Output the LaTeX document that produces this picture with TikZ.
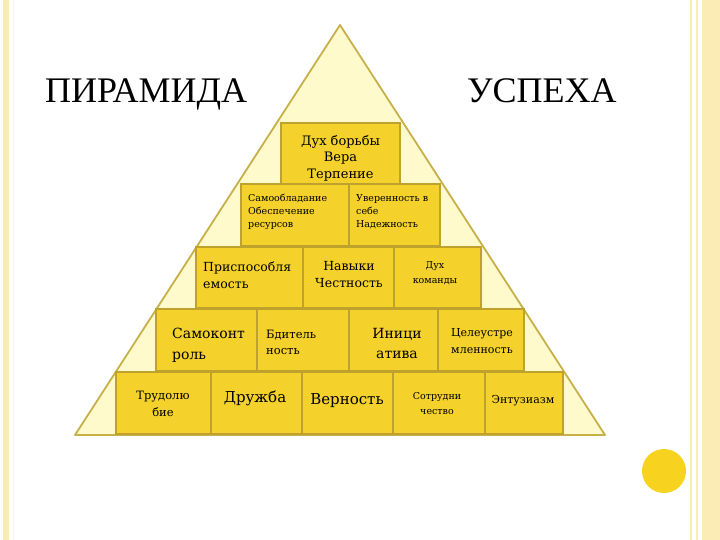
\documentclass[tikz,border=0pt]{standalone}
\usepackage{fontspec}
\setmainfont{Liberation Serif}
\newfontfamily\brickfont{DejaVu Serif}
\usetikzlibrary{fit}

\definecolor{brickfill}{HTML}{F5D22B}
\definecolor{brickline}{HTML}{BFA22E}
\definecolor{pyrfill}{HTML}{FEFACB}
\definecolor{pyrline}{HTML}{C6B04A}
\definecolor{stripe}{HTML}{FBEBB4}
\definecolor{dotfill}{HTML}{F7D21F}

\newcommand{\fs}[2]{\brickfont\fontsize{#1}{#2}\selectfont}

\begin{document}
\begin{tikzpicture}[x=1pt, y=-1pt,
  brick/.style={rectangle, draw=brickline, line width=1.6pt, fill=brickfill, inner sep=0pt},
  word/.style={inner sep=0pt, text=black}]

\useasboundingbox (0,0) rectangle (720,540);

% side stripes
\fill[stripe] (3,0) rectangle (9,540);
\draw[stripe!60, line width=0.8pt] (13,0) -- (13,540);
\draw[stripe, line width=2pt] (691,0) -- (691,540);
\draw[stripe, line width=2pt] (697,0) -- (697,540);
\fill[stripe] (702,0) rectangle (720,540);

% pyramid
\draw[pyrline, fill=pyrfill, line width=1.8pt, line join=round] (340,25) -- (605,435) -- (75,435) -- cycle;

% bricks
\node[brick, fit={(281,123) (400,184)}] (spirit) {};
\node[brick, fit={(241,184) (349,246)}] (selfpos) {};
\node[brick, fit={(349,184) (440,246)}] (confid) {};
\node[brick, fit={(196,247) (303,308)}] (adapt) {};
\node[brick, fit={(303,247) (394,308)}] (skills) {};
\node[brick, fit={(394,247) (481,308)}] (team) {};
\node[brick, fit={(156,309) (257,371)}] (selfctl) {};
\node[brick, fit={(257,309) (349,371)}] (alert) {};
\node[brick, fit={(349,309) (438,371)}] (initiat) {};
\node[brick, fit={(438,309) (524,371)}] (purpose) {};
\node[brick, fit={(116,372) (211,434)}] (labour) {};
\node[brick, fit={(211,372) (302,434)}] (friend) {};
\node[brick, fit={(302,372) (393,434)}] (loyal) {};
\node[brick, fit={(393,372) (485,434)}] (cooper) {};
\node[brick, fit={(485,372) (563,434)}] (enthus) {};

% texts
\node[word, align=center, font=\fs{13}{16.5}] (spiritT) at (340.5,158) {Дух борьбы\\Вера\\Терпение};
\node[word, align=left, anchor=west, font=\fs{9.5}{13}] (selfposT) at (248,212) {Самообладание\\Обеспечение\\ресурсов};
\node[word, align=left, anchor=west, font=\fs{9.5}{13}] (confidT) at (356,212) {Уверенность в\\себе\\Надежность};
\node[word, align=left, anchor=west, font=\fs{12.5}{17}] (adaptT) at (203,275) {Приспособля\\емость};
\node[word, align=center, font=\fs{12.5}{17}] (skillsT) at (349,275) {Навыки\\Честность};
\node[word, align=center, font=\fs{9.5}{15}] (teamT) at (435,273) {Дух\\команды};
\node[word, align=left, anchor=west, font=\fs{14}{21}] (selfctlT) at (172,345) {Самоконт\\роль};
\node[word, align=left, anchor=west, font=\fs{11.5}{16}] (alertT) at (266,342) {Бдитель\\ность};
\node[word, align=center, font=\fs{14}{20}] (initiatT) at (397,343) {Иници\\атива};
\node[word, align=center, font=\fs{11}{17}] (purposeT) at (482,341) {Целеустре\\мленность};
\node[word, align=center, font=\fs{11.5}{17}] (labourT) at (163,404) {Трудолю\\бие};
\node[word, font=\fs{15}{19}] (friendT) at (255,398) {Дружба};
\node[word, font=\fs{15}{19}] (loyalT) at (347,401) {Верность};
\node[word, align=center, font=\fs{9.5}{15}] (cooperT) at (437,404) {Сотрудни\\чество};
\node[word, font=\fs{11}{15}] (enthusT) at (523,401) {Энтузиазм};

% titles
\node[word, anchor=base west, font=\fontsize{36}{40}\selectfont] (titleL) at (45,103) {ПИРАМИДА};
\node[word, anchor=base west, font=\fontsize{36}{40}\selectfont] (titleR) at (467,103) {УСПЕХА};

% corner dot
\fill[dotfill] (664,471) circle (22);

\end{tikzpicture}
\end{document}
